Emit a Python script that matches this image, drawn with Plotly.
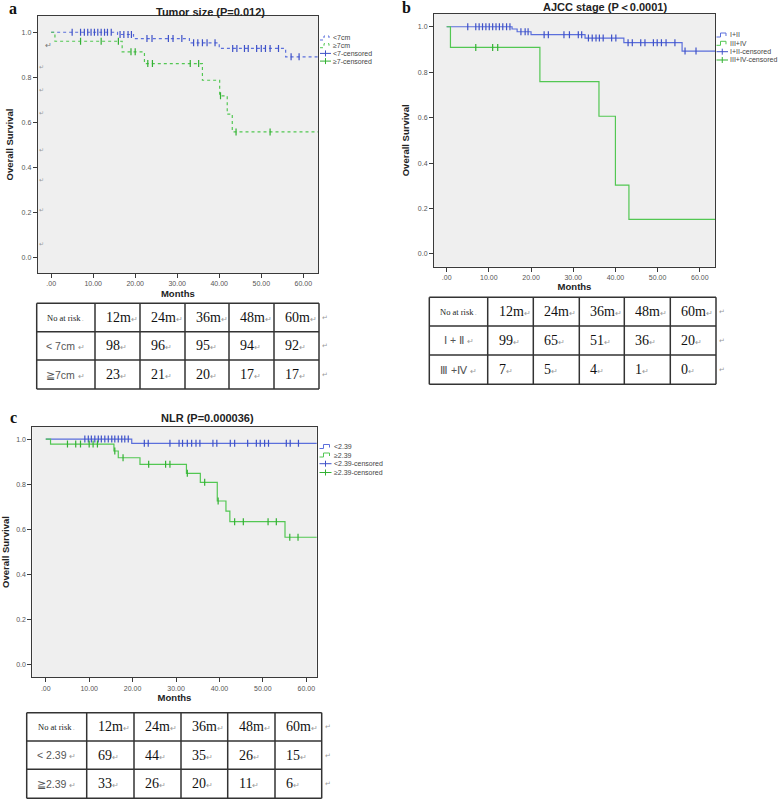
import numpy as np
import plotly.graph_objects as go

W, H = 783, 800

# ---------------- data ----------------
# Panel a : Tumor size
a_lt7_event_months = [15.8, 19.6, 32.9, 40.0, 55.8]
a_lt7_event_surv = [0.990, 0.972, 0.953, 0.928, 0.891]
a_lt7_censored = [5.0, 7.0, 7.9, 8.7, 9.5, 10.3, 11.1, 11.9, 12.7, 13.4, 14.3,
                  16.4, 17.3, 18.3, 19.1, 22.8, 24.0, 27.9, 29.0, 31.1,
                  33.9, 34.9, 36.0, 37.1, 39.0, 43.2, 44.2, 46.0, 46.9,
                  48.9, 50.0, 51.0, 52.1, 54.1, 57.1, 59.0]
a_ge7_event_months = [0.9, 16.9, 22.2, 36.0, 40.1, 41.9, 43.1]
a_ge7_event_surv = [0.960, 0.913, 0.861, 0.787, 0.718, 0.637, 0.558]
a_ge7_censored = [7.0, 11.9, 16.0, 19.0, 20.0, 23.0, 24.1, 33.1, 35.1, 40.3, 44.0, 52.1]

# Panel b : AJCC stage
b_12_event_months = [15.5, 16.7, 20.0, 32.8, 42.0, 55.8]
b_12_event_surv = [0.990, 0.978, 0.965, 0.950, 0.930, 0.893]
b_12_censored = [5.0, 6.9, 7.7, 8.5, 9.3, 10.1, 10.9, 11.7, 12.5, 13.3, 14.2, 15.0,
                 17.6, 18.6, 19.3, 23.1, 24.1, 27.8, 29.1, 31.2, 32.0,
                 33.6, 34.5, 35.4, 36.2, 37.1, 39.1, 40.1, 43.0, 44.0, 46.0, 47.0,
                 49.0, 49.9, 50.9, 52.0, 54.1, 56.5, 59.1]
b_34_event_months = [0.9, 22.1, 36.1, 40.0, 43.2]
b_34_event_surv = [0.909, 0.758, 0.606, 0.303, 0.152]
b_34_censored = [6.9, 10.9, 12.1]

# Panel c : NLR
c_lt_event_months = [19.8]
c_lt_event_surv = [0.981]
c_lt_censored = [9.0, 9.8, 10.5, 11.3, 12.1, 12.8, 13.6, 14.4, 15.2, 15.9, 16.7, 17.5,
                 18.2, 19.0, 22.7, 23.6, 28.6, 30.7, 31.5, 32.6, 33.6, 34.6, 35.5,
                 38.5, 39.4, 42.5, 43.5, 46.5, 48.5, 49.4, 50.4, 51.3, 55.4, 56.3, 58.2]
c_ge_event_months = [1.1, 15.7, 16.7, 21.7, 32.4, 35.6, 39.5, 41.5, 42.4, 55.1]
c_ge_event_surv = [0.978, 0.947, 0.917, 0.888, 0.848, 0.808, 0.725, 0.680, 0.633, 0.564]
c_ge_censored = [5.0, 6.9, 8.0, 10.0, 10.9, 11.9, 15.9, 17.8, 23.7, 27.6, 28.6, 32.6,
                 36.6, 39.7, 43.5, 45.5, 51.2, 53.1, 56.2, 58.1]

followup_end = 64.0

x_tick_vals = [0, 10, 20, 30, 40, 50, 60]
x_tick_text = [".00", "10.00", "20.00", "30.00", "40.00", "50.00", "60.00"]
y_tick_vals = [0.0, 0.2, 0.4, 0.6, 0.8, 1.0]

titles = ["Tumor size (P=0.012)", "AJCC stage (P\uff1c0.0001)", "NLR (P=0.000036)"]
legend_a = ["<7cm", "\u22657cm", "<7-censored", "\u22657-censored"]
legend_b = ["I+II", "III+IV", "I+II-censored", "III+IV-censored"]
legend_c = ["<2.39", "\u22652.39", "<2.39-censored", "\u22652.39-censored"]

table_header = ["No at risk", "12m", "24m", "36m", "48m", "60m"]
a_row_labels = ["< 7cm", "\u22677cm"]
a_lt7_at_risk = [98, 96, 95, 94, 92]
a_ge7_at_risk = [23, 21, 20, 17, 17]
b_row_labels = ["\u2160 + \u2161", "\u2162 +\u2163"]
b_12_at_risk = [99, 65, 51, 36, 20]
b_34_at_risk = [7, 5, 4, 1, 0]
c_row_labels = ["< 2.39", "\u22672.39"]
c_lt_at_risk = [69, 44, 35, 26, 15]
c_ge_at_risk = [33, 26, 20, 11, 6]

BLUE = "#5b6fdc"
BLUE_M = "#3f52c8"
GREEN = "#52c752"
GREEN_M = "#33b133"


def px(x):
    return min(max(x / W, 0.0), 1.0)


def py(y):
    return min(max(1 - y / H, 0.0), 1.0)


fig = go.Figure()


def km(events, surv, cens, color, mcolor, xa, ya, dash):
    xs = [0.0] + list(events) + [followup_end]
    ys = [1.0] + list(surv) + [surv[-1]]
    fig.add_trace(go.Scatter(x=xs, y=ys, mode="lines", line=dict(color=color, width=1.2, shape="hv", dash=dash),
                             xaxis=xa, yaxis=ya, showlegend=False, hoverinfo="skip"))
    levels = np.array([1.0] + list(surv))
    idx = np.searchsorted(np.array(events), np.array(cens), side="right")
    fig.add_trace(go.Scatter(x=cens, y=levels[idx], mode="markers",
                             marker=dict(symbol="line-ns", size=5, line=dict(width=1.2, color=mcolor)),
                             xaxis=xa, yaxis=ya, showlegend=False, hoverinfo="skip"))


km(a_lt7_event_months, a_lt7_event_surv, a_lt7_censored, BLUE, BLUE_M, "x", "y", "dot")
km(a_ge7_event_months, a_ge7_event_surv, a_ge7_censored, GREEN, GREEN_M, "x", "y", "dot")
km(b_12_event_months, b_12_event_surv, b_12_censored, BLUE, BLUE_M, "x2", "y2", "solid")
km(b_34_event_months, b_34_event_surv, b_34_censored, GREEN, GREEN_M, "x2", "y2", "solid")
km(c_lt_event_months, c_lt_event_surv, c_lt_censored, BLUE, BLUE_M, "x3", "y3", "solid")
km(c_ge_event_months, c_ge_event_surv, c_ge_censored, GREEN, GREEN_M, "x3", "y3", "solid")

# ---------------- axes ----------------
panels = {
    "a": (37.7, 318, 16, 273, [-3.2, 63.5], [-0.068, 1.072]),
    "b": (434, 715, 14, 266.7, [-3.0, 63.6], [-0.056, 1.056]),
    "c": (32.3, 316.7, 426.7, 677.3, [-3.1, 62.4], [-0.058, 1.055]),
}
axis_common = dict(showline=True, linecolor="#3a3a3a", linewidth=1, mirror=True, ticks="outside",
                   ticklen=4, tickcolor="#3a3a3a", tickwidth=1, showgrid=False, zeroline=False,
                   tickfont=dict(family="Liberation Sans", size=7, color="#555555"))
title_font = dict(family="Liberation Sans", size=9.5, color="#222222")
layout_axes = {}
for i, key in enumerate(["a", "b", "c"]):
    l, r, t, b, xr, yr = panels[key]
    sx = "" if i == 0 else str(i + 1)
    layout_axes["xaxis" + sx] = dict(domain=[px(l), px(r)], range=xr, anchor="y" + sx,
                                     tickvals=x_tick_vals, ticktext=x_tick_text,
                                     title=dict(text="<b>Months</b>", font=title_font, standoff=3),
                                     **axis_common)
    layout_axes["yaxis" + sx] = dict(domain=[py(b), py(t)], range=yr, anchor="x" + sx,
                                     tickvals=y_tick_vals, tickformat=".1f",
                                     title=dict(text="<b>Overall Survival</b>", font=title_font, standoff=6),
                                     **axis_common)

fig.update_layout(**layout_axes)

annotations = []
shapes = []

# ---------------- number-at-risk tables ----------------
RET = "<span style='font-size:8px;color:#9a9a9a'>\u21b5</span>"
GRID = dict(color="#333333", width=1.5)


def add_table(col_px, row_px, labels, row1, row2, trail_x):
    for xx in col_px:
        shapes.append(dict(type="line", xref="paper", yref="paper", x0=px(xx), x1=px(xx),
                           y0=py(row_px[0]), y1=py(row_px[-1]), line=GRID))
    for yy in row_px:
        shapes.append(dict(type="line", xref="paper", yref="paper", x0=px(col_px[0]), x1=px(col_px[-1]),
                           y0=py(yy), y1=py(yy), line=GRID))
    centers = [(row_px[k] + row_px[k + 1]) / 2 for k in range(3)]
    label_x = (col_px[0] + col_px[1]) / 2
    annotations.append(dict(x=px(label_x), y=py(centers[0]), xref="paper", yref="paper",
                            text=table_header[0] + "<span style='font-size:6px;color:#9a9a9a'> .</span>",
                            xanchor="center", yanchor="middle", showarrow=False,
                            font=dict(family="Liberation Serif", size=8.5, color="#222222")))
    rows = [table_header[1:], [str(v) for v in row1], [str(v) for v in row2]]
    for r in range(3):
        for k in range(5):
            annotations.append(dict(x=px(col_px[k + 1] + 9), y=py(centers[r]), xref="paper", yref="paper",
                                    text=rows[r][k] + RET, xanchor="left", yanchor="middle", showarrow=False,
                                    font=dict(family="Liberation Serif", size=14, color="#111111")))
        annotations.append(dict(x=px(trail_x), y=py(centers[r]), xref="paper", yref="paper", text="\u21b5",
                                xanchor="center", yanchor="middle", showarrow=False,
                                font=dict(size=7, color="#9a9a9a")))
    for r in range(2):
        annotations.append(dict(x=px(label_x), y=py(centers[r + 1]), xref="paper", yref="paper",
                                text=labels[r] + " " + RET, xanchor="center", yanchor="middle", showarrow=False,
                                font=dict(family="Liberation Sans", size=10.5, color="#555555")))


add_table([36.7, 95, 140, 185, 229, 274, 319], [303.3, 331.7, 360, 389],
          a_row_labels, a_lt7_at_risk, a_ge7_at_risk, 325)
add_table([429.3, 487.7, 533.3, 579.3, 624.3, 670.3, 716], [297.3, 326, 355, 384.3],
          b_row_labels, b_12_at_risk, b_34_at_risk, 722)
add_table([26.7, 86.7, 134, 181, 227.7, 275, 321.7], [712.7, 741, 769.3, 798.3],
          c_row_labels, c_lt_at_risk, c_ge_at_risk, 328)

# panel letters & titles
for letter, (lx, ly) in zip(["a", "b", "c"], [(13, 8), (406, 7), (13, 417)]):
    annotations.append(dict(x=px(lx), y=py(ly), xref="paper", yref="paper", text="<b>" + letter + "</b>",
                            xanchor="center", yanchor="middle", showarrow=False,
                            font=dict(family="Liberation Serif", size=16, color="#111111")))
for ttl, (tx, ty) in zip(titles, [(210, 12), (605, 7), (207, 418)]):
    annotations.append(dict(x=px(tx), y=py(ty), xref="paper", yref="paper", text="<b>" + ttl + "</b>",
                            xanchor="center", yanchor="middle", showarrow=False,
                            font=dict(family="Liberation Sans", size=11, color="#222222")))

# stray paragraph marks along the left edge of panel a
annotations.append(dict(x=px(48), y=py(44), xref="paper", yref="paper", text="\u21b5",
                        xanchor="center", yanchor="middle", showarrow=False,
                        font=dict(size=8, color="#777777")))
for yy in [67, 90, 113, 150, 180, 210, 244]:
    annotations.append(dict(x=px(41), y=py(yy), xref="paper", yref="paper", text="\u21b5",
                            xanchor="center", yanchor="middle", showarrow=False,
                            font=dict(size=5.5, color="#999999")))


def legend(texts, x0, x1, tx, rows, dashed):
    colors = [BLUE, GREEN, BLUE_M, GREEN_M]
    for k, (txt, yy) in enumerate(zip(texts, rows)):
        c = colors[k]
        if k < 2:
            path = "M {:.5f},{:.5f} H {:.5f} V {:.5f} H {:.5f} V {:.5f}".format(
                px(x0), py(yy + 2), px(x0 + 4), py(yy - 2), px(x1 - 2), py(yy + 1))
            shapes.append(dict(type="path", path=path, xref="paper", yref="paper",
                               line=dict(color=c, width=1, dash="dot" if dashed else "solid")))
        else:
            shapes.append(dict(type="line", x0=px(x0), x1=px(x1), y0=py(yy), y1=py(yy), xref="paper",
                               yref="paper", line=dict(color=c, width=1)))
            shapes.append(dict(type="line", x0=px((x0 + x1) / 2), x1=px((x0 + x1) / 2), y0=py(yy - 3),
                               y1=py(yy + 3), xref="paper", yref="paper", line=dict(color=c, width=1)))
        annotations.append(dict(x=px(tx), y=py(yy), xref="paper", yref="paper", text=txt, xanchor="left",
                                yanchor="middle", showarrow=False, borderpad=0,
                                font=dict(family="Liberation Sans", size=7, color="#444444")))


legend(legend_a, 320, 331, 332, [38, 45.7, 53.4, 61.1], True)
legend(legend_b, 716.5, 728, 729, [35, 43.3, 51.7, 60], False)
legend(legend_c, 319.5, 331.5, 332.5, [446.5, 455, 463.7, 472.5], False)

fig.update_layout(width=W, height=H, margin=dict(l=0, r=0, t=0, b=0), paper_bgcolor="white",
                  plot_bgcolor="#efefef", annotations=annotations, shapes=shapes, showlegend=False)

fig.write_html("out.html", config={"displayModeBar": False},
               post_script="document.body.style.margin='0px';")
